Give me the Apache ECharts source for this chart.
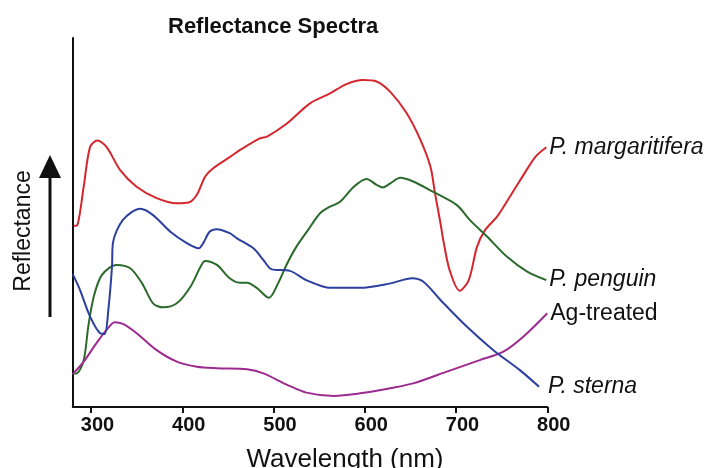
<!DOCTYPE html>
<html>
<head>
<meta charset="utf-8">
<title>Reflectance Spectra</title>
<script src="https://cdn.jsdelivr.net/npm/echarts@6/dist/echarts.min.js"></script>
<style>
  html, body { margin: 0; padding: 0; background: #fff; }
  #chart { width: 714px; height: 468px; }
</style>
</head>
<body>
<div id="chart"></div>
<script>
// wavelengths (nm) and relative reflectance
const margaritiferaNm = [281, 285, 292, 299, 307, 317, 332, 350, 372, 394, 407, 416, 425, 434, 452, 463, 485, 493, 515, 540, 562, 580, 598, 613, 628, 646, 661, 672, 677, 683, 686, 693, 704, 714, 723, 732, 745, 759, 774, 787, 799];
const margaritiferaR = [49.1, 49.3, 59.7, 70.5, 72.2, 70.5, 64.2, 59.7, 56.6, 55.2, 55.4, 57.5, 62.4, 64.7, 67.7, 69.6, 72.8, 73.3, 76.9, 82.3, 85.0, 87.5, 88.6, 88.2, 85.4, 79.6, 72.4, 65.1, 57.9, 49.8, 45.3, 37.1, 31.5, 34.4, 43.4, 48.0, 51.6, 57.0, 62.9, 67.8, 70.4];

const penguinNm = [280, 284, 292, 297, 303, 312, 328, 343, 356, 368, 379, 394, 409, 420, 425, 438, 452, 463, 471, 482, 495, 505, 515, 525, 538, 551, 562, 573, 588, 602, 613, 620, 628, 639, 653, 675, 701, 715, 734, 756, 778, 799];
const penguinR = [9.1, 9.1, 12.7, 21.8, 29.9, 35.8, 38.5, 37.6, 33.5, 28.1, 27.0, 28.1, 32.6, 38.0, 39.6, 38.5, 34.9, 33.7, 33.7, 32.2, 29.6, 33.5, 38.9, 43.4, 48.0, 52.5, 54.3, 55.6, 59.7, 61.8, 60.2, 59.5, 60.6, 62.1, 61.1, 58.3, 54.7, 50.7, 46.2, 40.7, 36.7, 34.4];

const agTreatedNm = [280, 292, 306, 317, 326, 335, 350, 372, 394, 416, 438, 471, 489, 515, 536, 566, 595, 628, 653, 690, 726, 752, 774, 800];
const agTreatedR = [8.9, 12.3, 17.3, 20.9, 23.0, 22.5, 20.0, 15.4, 12.3, 10.9, 10.5, 10.2, 9.1, 6.0, 3.9, 3.0, 3.7, 5.1, 6.4, 9.6, 12.7, 15.0, 19.1, 25.4];

const sternaNm = [280, 288, 299, 310, 315, 319, 323, 324, 335, 354, 368, 387, 405, 418, 423, 430, 438, 452, 460, 478, 489, 498, 518, 536, 562, 595, 628, 652, 664, 683, 708, 741, 770, 791];
const sternaR = [36.0, 31.7, 24.5, 20.0, 19.8, 26.3, 38.0, 44.4, 50.7, 53.7, 52.0, 47.5, 44.4, 43.0, 44.4, 47.5, 48.2, 47.1, 45.7, 43.0, 39.8, 37.3, 36.9, 34.4, 32.3, 32.3, 33.5, 34.9, 34.0, 29.0, 22.7, 15.4, 10.0, 5.5];

const tickLabels = [300, 400, 500, 600, 700, 800];

const FONT = "'Liberation Sans', Arial, Helvetica, sans-serif";

function zip(xs, ys) {
  return xs.map((x, i) => [x, ys[i]]);
}

function spectrum(name, xs, ys, color, italic, dist) {
  return {
    name: name,
    type: "line",
    smooth: 0.3,
    showSymbol: false,
    silent: true,
    lineStyle: { color: color, width: 2 },
    data: zip(xs, ys),
    endLabel: {
      show: true,
      formatter: "{a}",
      distance: dist,
      color: "#111",
      fontFamily: FONT,
      fontSize: 23,
      fontStyle: italic ? "italic" : "normal",
    },
  };
}

const chart = echarts.init(document.getElementById("chart"));

const option = {
  animation: false,
  backgroundColor: "#fff",
  title: {
    text: "Reflectance Spectra",
    left: 163,
    top: 11,
    textStyle: {
      fontFamily: FONT,
      fontSize: 22,
      fontWeight: "bold",
      color: "#111",
    },
  },
  grid: {
    left: 72.75,
    right: 166.75,
    top: 38,
    bottom: 61,
    containLabel: false,
    outerBoundsMode: "none",
  },
  xAxis: {
    type: "value",
    min: 280,
    max: 800,
    name: "Wavelength (nm)",
    nameLocation: "middle",
    nameGap: 40,
    nameTextStyle: {
      fontFamily: FONT,
      fontSize: 26,
      color: "#111",
      padding: [0, 0, 0, 70],
    },
    axisLine: { lineStyle: { color: "#111", width: 2 } },
    axisTick: {
      customValues: tickLabels,
      length: 6,
      lineStyle: { color: "#111", width: 2 },
    },
    axisLabel: {
      customValues: tickLabels,
      margin: 8,
      fontFamily: FONT,
      fontSize: 20,
      fontWeight: "bold",
      color: "#111",
      padding: [0, 0, 0, 13],
    },
    splitLine: { show: false },
  },
  yAxis: {
    type: "value",
    min: 0,
    max: 100,
    axisLine: { show: true, lineStyle: { color: "#111", width: 2 } },
    axisTick: { show: false },
    axisLabel: { show: false },
    splitLine: { show: false },
  },
  graphic: [
    {
      type: "line",
      shape: { x1: 50, y1: 317, x2: 50, y2: 176 },
      style: { stroke: "#111", lineWidth: 3 },
    },
    {
      type: "polygon",
      shape: { points: [[39, 178], [61, 178], [50, 155]] },
      style: { fill: "#111" },
    },
    {
      type: "text",
      x: 24,
      y: 231,
      rotation: Math.PI / 2,
      style: {
        text: "Reflectance",
        font: "23px " + FONT,
        fill: "#111",
        align: "center",
        verticalAlign: "middle",
      },
    },
  ],
  series: [
    spectrum("P. margaritifera", margaritiferaNm, margaritiferaR, "#d4272d", true, 3),
    spectrum("P. penguin", penguinNm, penguinR, "#2b6a2b", true, 3),
    spectrum("Ag-treated", agTreatedNm, agTreatedR, "#9c2a8f", false, 3),
    spectrum("P. sterna", sternaNm, sternaR, "#2b3f9f", true, 9),
  ],
};

chart.setOption(option);
</script>
</body>
</html>
